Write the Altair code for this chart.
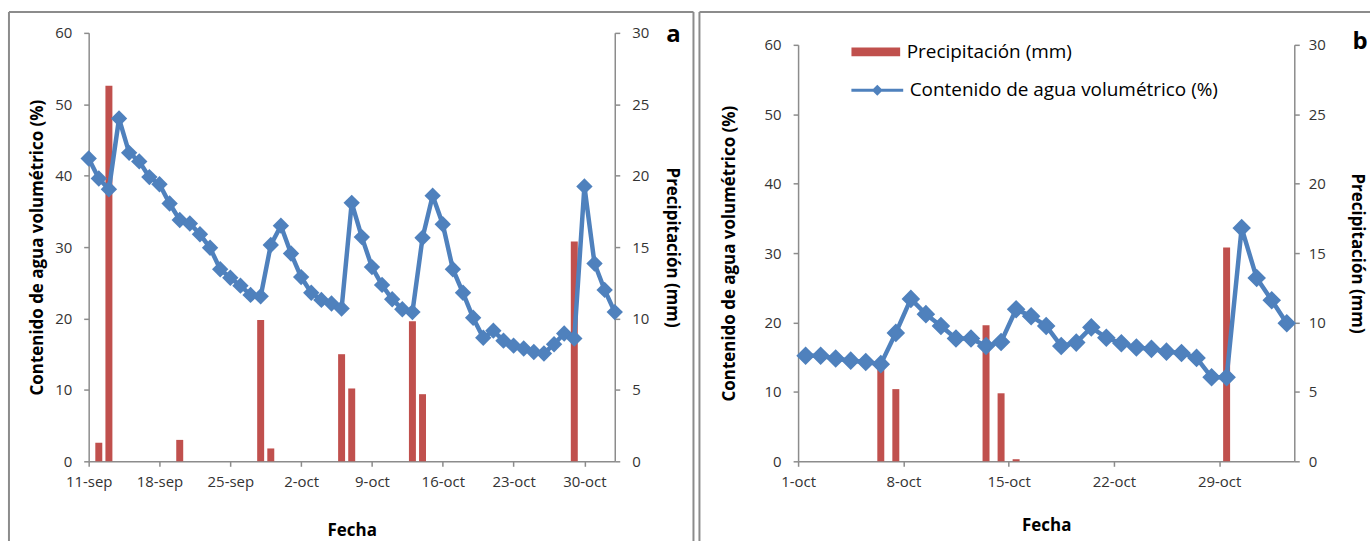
import altair as alt
import pandas as pd

ROJO = "#C0504D"
AZUL = "#4F81BD"
GRIS = "#8C8C8C"
TEXTO = "#333333"
FUENTE = "Open Sans"

serie_lluvia = "Precipitación (mm)"
serie_humedad = "Contenido de agua volumétrico (%)"

# ---------------- Panel a ----------------
inicio_a = "2012-09-11"
fin_a = "2012-11-02"
humedad_a = [42.4, 39.6, 38.1, 48.0, 43.2, 42.0, 39.8, 38.8, 36.1, 33.8,
             33.3, 31.8, 29.9, 26.9, 25.7, 24.6, 23.3, 23.1, 30.3, 33.0,
             29.1, 25.8, 23.6, 22.6, 22.1, 21.4, 36.2, 31.4, 27.2, 24.7,
             22.7, 21.3, 20.9, 31.3, 37.2, 33.2, 26.9, 23.6, 20.1, 17.3,
             18.3, 16.9, 16.2, 15.8, 15.3, 15.1, 16.4, 17.9, 17.2, 38.5,
             27.7, 24.0, 20.9]
lluvia_a_fechas = ["2012-09-12", "2012-09-13", "2012-09-20", "2012-09-28", "2012-09-29",
                   "2012-10-06", "2012-10-07", "2012-10-13", "2012-10-14", "2012-10-29"]
lluvia_a = [1.3, 26.3, 1.5, 9.9, 0.9, 7.5, 5.1, 9.8, 4.7, 15.4]
ticks_a = ["2012-09-11", "2012-09-18", "2012-09-25", "2012-10-02",
           "2012-10-09", "2012-10-16", "2012-10-23", "2012-10-30"]

# ---------------- Panel b ----------------
inicio_b = "2012-10-01"
fin_b = "2012-11-03"
humedad_b = [15.2, 15.2, 14.8, 14.5, 14.3, 14.0, 18.5, 23.4, 21.2, 19.5,
             17.7, 17.7, 16.6, 17.2, 21.9, 20.9, 19.5, 16.6, 17.1, 19.3,
             17.8, 17.0, 16.4, 16.2, 15.8, 15.6, 14.9, 12.1, 12.1, 33.6,
             26.4, 23.2, 19.9]
lluvia_b_fechas = ["2012-10-06", "2012-10-07", "2012-10-13", "2012-10-14",
                   "2012-10-15", "2012-10-29"]
lluvia_b = [7.0, 5.2, 9.8, 4.9, 0.15, 15.4]
ticks_b = ["2012-10-01", "2012-10-08", "2012-10-15", "2012-10-22", "2012-10-29"]


def dt(s):
    t = pd.Timestamp(s)
    return alt.DateTime(year=t.year, month=t.month, date=t.day)


def eje_x(valores, title_padding):
    return alt.Axis(values=[dt(v) for v in valores],
                    labelExpr="lower(timeFormat(datum.value, '%-d-%b'))",
                    labelFlush=False, labelOverlap=False,
                    title="Fecha", titlePadding=title_padding, labelPadding=8,
                    titleFontSize=17)


unidad = pd.DataFrame({"k": [0]})


def marco(izq, der, arriba, abajo, con_derecha):
    capas = [
        alt.Chart(unidad).mark_rule(color=GRIS, strokeWidth=2).encode(
            x=alt.value(izq), y=alt.value(arriba), y2=alt.value(abajo)),
        alt.Chart(unidad).mark_rule(color=GRIS, strokeWidth=2).encode(
            x=alt.value(izq), x2=alt.value(der), y=alt.value(arriba)),
    ]
    if con_derecha:
        capas.append(alt.Chart(unidad).mark_rule(color=GRIS, strokeWidth=2).encode(
            x=alt.value(der), y=alt.value(arriba), y2=alt.value(abajo)))
    return capas


def letra(t, x, y):
    return alt.Chart(pd.DataFrame({"t": [t]})).mark_text(
        font=FUENTE, fontSize=24, fontWeight="bold", color="black",
        align="center", baseline="middle").encode(
        text="t:N", x=alt.value(x), y=alt.value(y))


# ---- panel a chart ----
df_hum_a = pd.DataFrame({"fecha": pd.date_range(inicio_a, periods=len(humedad_a), freq="D"),
                         "valor": humedad_a})
df_llu_a = pd.DataFrame({"fecha": pd.to_datetime(lluvia_a_fechas), "valor": lluvia_a})

xa = alt.X("fecha:T", scale=alt.Scale(domain=[dt(inicio_a), dt(fin_a)], padding=0),
           axis=eje_x(ticks_a, 33))

barras_a = alt.Chart(df_llu_a).mark_bar(size=7, color=ROJO).encode(
    x=xa,
    y=alt.Y("valor:Q", scale=alt.Scale(domain=[0, 30], padding=0),
            axis=alt.Axis(orient="right", values=list(range(0, 31, 5)),
                          title=serie_lluvia, labelPadding=12, titlePadding=14)))

linea_a = alt.Chart(df_hum_a).mark_line(
    color=AZUL, strokeWidth=4.5,
    point=alt.OverlayMarkDef(shape="diamond", size=270, filled=True, color=AZUL, opacity=1)).encode(
    x=xa,
    y=alt.Y("valor:Q", scale=alt.Scale(domain=[0, 60]),
            axis=alt.Axis(orient="left", values=list(range(0, 61, 10)),
                          title=serie_humedad, labelPadding=12, titlePadding=8)))

panel_a = alt.layer(
    *marco(-80, 607, -21, 510, True), barras_a, linea_a, letra("a", 587, 2)
).resolve_scale(y="independent").properties(width=528, height=430)

# ---- panel b chart ----
df_hum_b = pd.DataFrame({"fecha": pd.date_range(inicio_b, periods=len(humedad_b), freq="D")
                         + pd.Timedelta(hours=12),
                         "valor": humedad_b, "serie": serie_humedad})
df_llu_b = pd.DataFrame({"fecha": pd.to_datetime(lluvia_b_fechas) + pd.Timedelta(hours=12),
                         "valor": lluvia_b, "serie": serie_lluvia})

xb = alt.X("fecha:T", scale=alt.Scale(domain=[dt(inicio_b), dt(fin_b)], padding=0),
           axis=eje_x(ticks_b, 28))

PATH_RECT = "M-0.94,-0.17H0.94V0.17H-0.94Z"
PATH_LINEA = "M-1,0H1M0,-0.13L0.13,0L0,0.13L-0.13,0Z"

leyenda_lluvia = alt.Legend(
    orient="none", legendX=764, legendY=-7, title=None, padding=0,
    symbolType=PATH_RECT, symbolSize=2704, symbolStrokeWidth=0, symbolOpacity=1,
    labelFontSize=19, labelFont=FUENTE, labelColor="black", labelOffset=5,
    labelLimit=500)

leyenda_humedad = alt.Legend(
    orient="none", legendX=764, legendY=30, title=None, padding=0,
    symbolType=PATH_LINEA, symbolSize=2704, symbolStrokeWidth=3, symbolOpacity=1,
    symbolFillColor=AZUL,
    labelFontSize=19, labelFont=FUENTE, labelColor="black", labelOffset=5,
    labelLimit=500)

barras_b = alt.Chart(df_llu_b).mark_bar(size=7).encode(
    x=xb,
    y=alt.Y("valor:Q", scale=alt.Scale(domain=[0, 30], range=[430, 12], padding=0),
            axis=alt.Axis(orient="right", values=list(range(0, 31, 5)),
                          title=serie_lluvia, labelPadding=9, titlePadding=22)),
    fill=alt.Fill("serie:N", scale=alt.Scale(domain=[serie_lluvia], range=[ROJO]),
                  legend=leyenda_lluvia))

linea_b = alt.Chart(df_hum_b).mark_line(
    strokeWidth=4.5,
    point=alt.OverlayMarkDef(shape="diamond", size=250, filled=True, fill=AZUL, opacity=1)).encode(
    x=xb,
    y=alt.Y("valor:Q", scale=alt.Scale(domain=[0, 60], range=[430, 12]),
            axis=alt.Axis(orient="left", values=list(range(0, 61, 10)),
                          title=serie_humedad, labelPadding=12, titlePadding=26)),
    stroke=alt.Stroke("serie:N", scale=alt.Scale(domain=[serie_humedad], range=[AZUL]),
                      legend=leyenda_humedad))

panel_b = alt.layer(
    *marco(-99, 574, -21, 510, False), barras_b, linea_b, letra("b", 564, 9)
).resolve_scale(y="independent").properties(width=498, height=430)

chart = alt.hconcat(panel_a, panel_b, spacing=2).properties(
    padding={"left": 7, "top": 9, "right": 0, "bottom": 0},
    background="white"
).configure_view(stroke="transparent").configure_axis(
    labelFont=FUENTE, labelFontSize=15, labelColor=TEXTO,
    titleFont=FUENTE, titleFontSize=17, titleFontWeight="bold", titleColor="black",
    domainColor=GRIS, tickColor=GRIS, domainWidth=1.5, tickWidth=1.5, tickSize=5,
    grid=False
)

chart.save("out.html", embed_options={"renderer": "svg", "actions": False})
